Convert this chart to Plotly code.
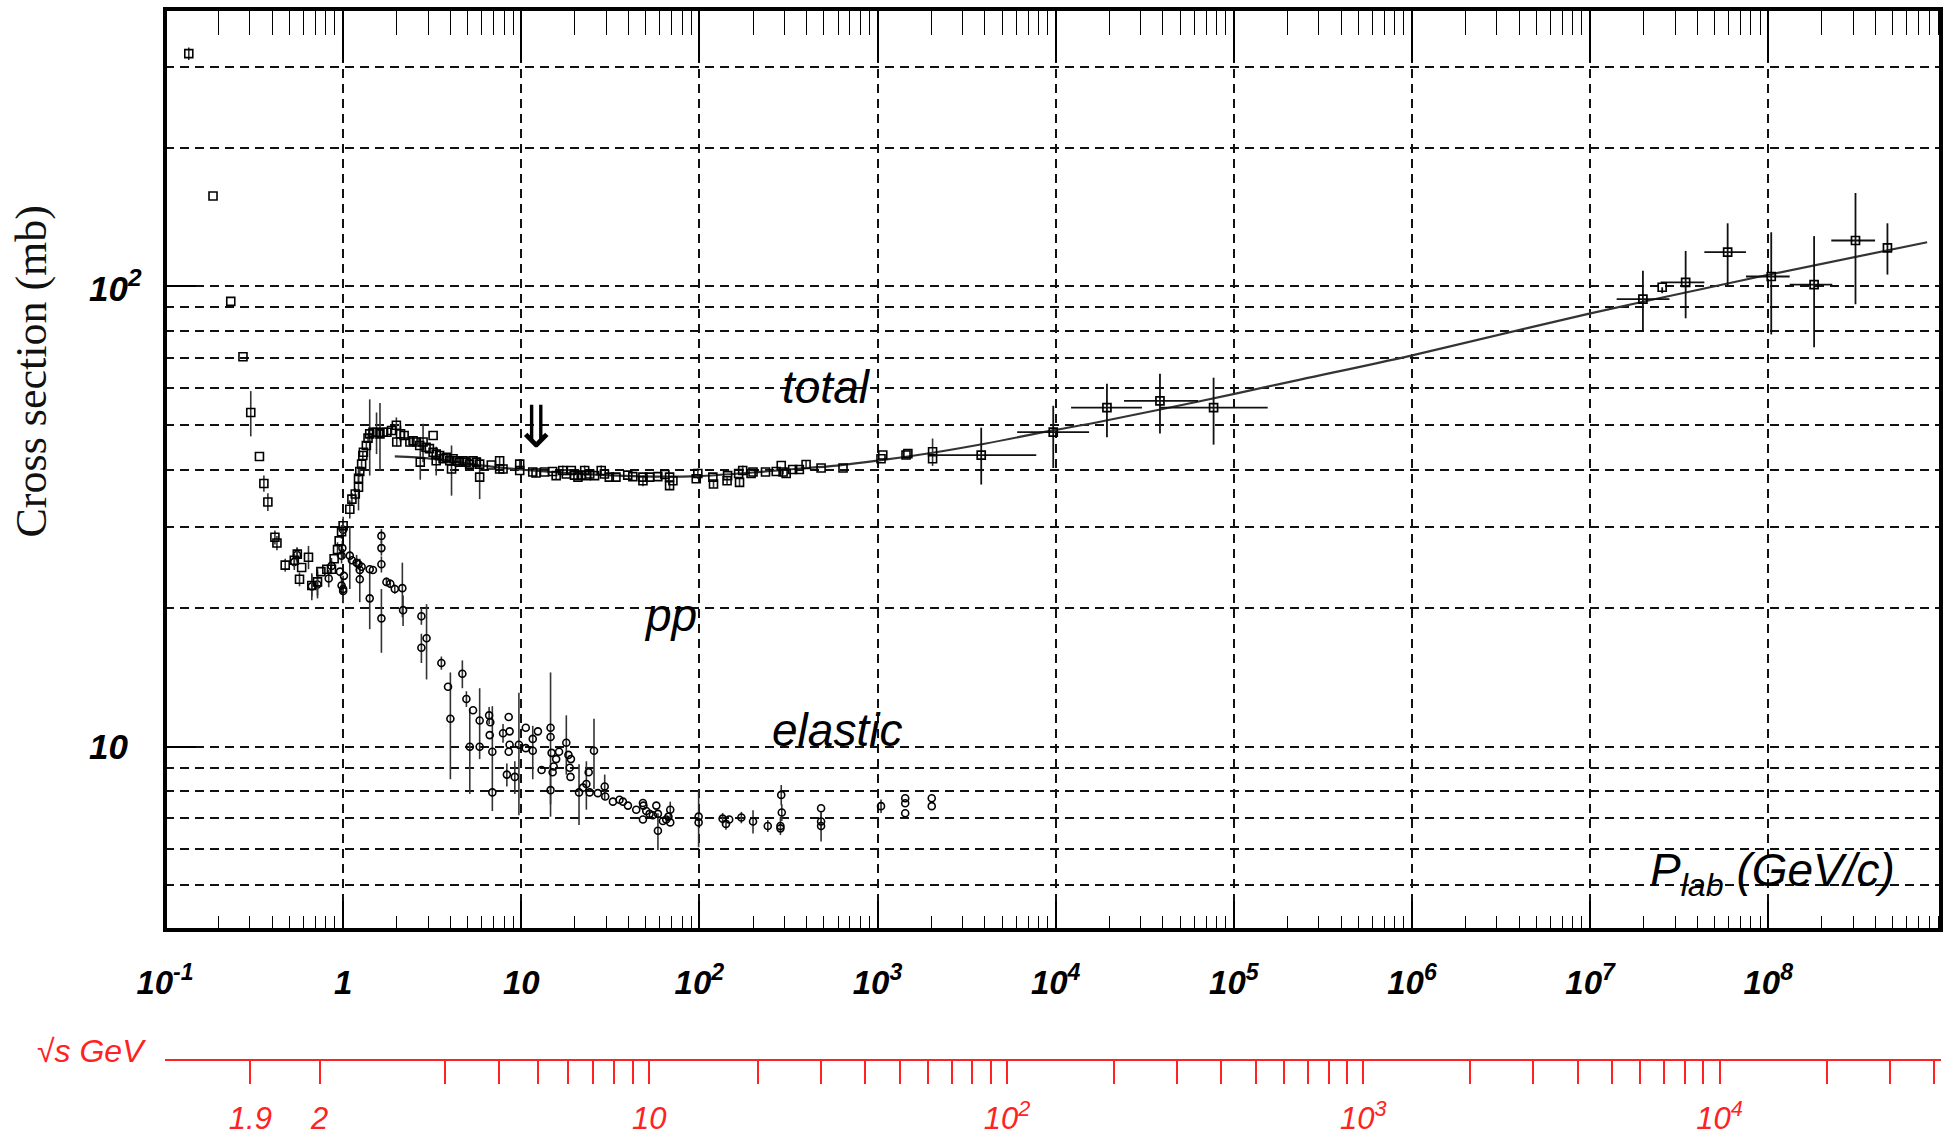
import math
import plotly.graph_objects as go

PROTON_MASS = 0.938272  # GeV

# ---------------- pp total cross section (open squares) ----------------
# beam momentum p_lab [GeV/c], sigma [mb], symmetric error [mb]
tot_p = [0.136, 0.186, 0.234, 0.274, 0.303, 0.339, 0.359, 0.378, 0.414, 0.425,
         0.473, 0.532, 0.553, 0.569, 0.585, 0.639, 0.667, 0.718, 0.75, 0.81,
         0.86, 0.89, 0.93, 0.95, 0.98, 1.0, 1.09, 1.12, 1.17, 1.22,
         1.22, 1.24, 1.27, 1.29, 1.30, 1.35, 1.38, 1.41, 1.47, 1.54,
         1.61, 1.68, 1.76, 1.87, 1.99, 2.0, 2.1, 2.2, 2.37, 2.47,
         2.58, 2.69, 2.81, 2.71, 2.92, 3.05, 3.2, 3.2, 3.33, 3.48,
         3.64, 3.33, 3.79, 3.97, 4.06, 4.14, 4.33, 4.5, 4.71, 4.9,
         5.13, 5.36, 5.6, 5.84, 5.84, 6.79, 7.56, 7.56, 7.9, 9.8,
         9.8, 11.6, 12.1, 13.5, 15.0, 15.7, 17.1, 17.9, 19.1, 19.9,
         20.8, 21.7, 22.7, 23.2, 24.2, 25.8, 28.1, 29.3, 31.2, 34.0,
         39.6, 42.3, 48.2, 48.2, 52.5, 58.4, 64, 68, 68, 71,
         96, 98, 119, 120, 143, 144, 166, 168, 175, 195,
         200, 235, 270, 288, 295, 307, 334, 364, 397, 482,
         640, 1046, 1070, 1445, 1480, 2037, 2037]
tot_sigma = [320, 157, 92.7, 70.3, 53.2, 42.7, 37.3, 34.0, 28.5, 27.7,
             24.8, 25.4, 26.2, 23.1, 24.5, 25.8, 22.4, 22.8, 24.0, 24.3,
             24.3, 25.6, 26.8, 28.0, 29.3, 30.2, 32.8, 34.5, 35.4, 36.6,
             38.3, 39.6, 41.1, 42.9, 43.6, 45.1, 46.8, 47.8, 48.2, 48.2,
             47.8, 48.2, 48.2, 48.6, 49.9, 45.9, 47.8, 47.4, 45.9, 46.2,
             45.9, 45.1, 45.9, 41.5, 44.7, 44.4, 47.4, 43.6, 43.2, 42.9,
             42.2, 41.8, 42.5, 41.8, 40.1, 42.2, 41.8, 41.5, 41.8, 41.5,
             41.1, 41.8, 41.5, 41.1, 38.5, 40.9, 41.8, 40.1, 40.1, 41.1,
             39.8, 39.5, 39.3, 39.5, 39.6, 38.8, 39.8, 39.1, 39.8, 38.9,
             38.5, 38.9, 39.8, 38.8, 39.1, 38.8, 39.8, 39.1, 38.5, 38.5,
             38.9, 38.6, 38.5, 37.8, 38.5, 38.6, 39.0, 38.5, 36.9, 37.8,
             38.2, 39.2, 38.5, 37.2, 37.8, 38.8, 39.2, 37.5, 39.8, 39.2,
             39.5, 39.5, 39.6, 40.8, 39.5, 39.2, 40.0, 40.0, 41.0, 40.3,
             40.3, 42.2, 43.0, 43.0, 43.3, 43.7, 42.2]
tot_err = [10, 0, 0, 0, 6, 0, 1.5, 1.5, 1, 1,
           0.8, 0.8, 0.8, 0.8, 0, 1.5, 1.2, 1.5, 0, 0,
           0, 0, 1, 0, 1, 1, 1.5, 1, 1, 4,
           1, 1, 1, 1, 0, 1, 1, 9, 1, 5,
           8, 1, 1, 1, 2, 1, 2, 1, 1, 0,
           0, 0, 4.4, 3.5, 0, 0, 0, 0, 0, 0,
           0, 3, 0, 0, 5, 0, 0, 0, 0, 0,
           0, 0, 0, 0, 4, 0, 1, 0, 0, 1,
           0, 0, 0.8, 0, 0, 0.8, 1, 0, 0, 0,
           0, 1, 1, 0, 0, 0, 1, 0, 0, 0,
           0, 0, 0, 1, 0, 0, 0, 0, 0.8, 0,
           0, 1, 0, 0.7, 0.7, 0, 0, 0.7, 1, 0,
           0, 0, 0, 0, 0.5, 0, 0, 0, 0.8, 0,
           0, 0, 0, 0, 0, 3, 0]

# ------------- high-energy total cross section with momentum bins -------------
hi_p = [3820, 9690, 19400, 38500, 77000, 1.98e7, 2.54e7, 3.44e7, 5.92e7,
        1.04e8, 1.81e8, 3.09e8, 4.67e8]
hi_sigma = [43.0, 48.2, 54.5, 56.4, 54.5, 93.8, 99.5, 102.0, 118.6,
            105.0, 100.8, 125.7, 121.2]
hi_sigma_low = [37.1, 40.3, 47.0, 47.9, 45.3, 79.8, 96.6, 85.2, 100.0,
                78.6, 73.7, 91.4, 106.0]
hi_sigma_high = [49.3, 55.0, 61.4, 64.6, 63.3, 108.0, 99.5, 119.3, 137.0,
                 131.0, 128.5, 159.4, 137.0]
hi_p_low = [2080, 6080, 12200, 24200, 38500, 1.41e7, 2.54e7, 2.49e7, 4.38e7,
            7.5e7, 1.32e8, 2.26e8, 4.67e8]
hi_p_high = [7780, 15400, 30500, 63000, 155000, 2.79e7, 2.54e7, 4.38e7, 7.5e7,
             1.32e8, 2.29e8, 3.98e8, 4.67e8]

# ---------------- pp elastic cross section (open circles) ----------------
el_p = [0.532, 0.551, 0.667, 0.718, 0.83, 0.86, 0.96, 0.98, 1.0, 0.98,
        0.99, 1.0, 1.0, 1.01, 1.09, 1.12, 1.19, 1.22, 1.24, 1.27,
        1.24, 1.41, 1.47, 1.41, 1.64, 1.64, 1.64, 1.64, 1.75, 1.84,
        1.95, 2.15, 2.17, 2.75, 2.75, 2.94, 3.56, 3.88, 4.0, 4.67,
        4.92, 5.14, 5.36, 5.84, 5.84, 6.6, 6.7, 6.65, 6.88, 6.88,
        7.9, 8.3, 8.5, 8.6, 8.6, 8.5, 9.2, 9.7, 10.6, 10.6,
        11.6, 11.6, 12.4, 13.0, 14.6, 14.6, 14.8, 15.0, 14.6, 15.2,
        15.7, 16.3, 17.9, 18.4, 18.7, 18.9, 19.0, 21.1, 22.2, 23.2,
        23.9, 24.2, 25.6, 26.9, 29.4, 29.6, 32.7, 35.6, 37.2, 39.7,
        44.2, 48.2, 48.5, 48.2, 50.3, 52.5, 54.8, 57.3, 58.5, 58.5,
        62.4, 65.1, 67, 68.6, 68.6, 99, 99, 135, 141, 147,
        172, 200, 242, 288, 290, 285, 285, 482, 482, 482,
        1046, 1430, 1430, 1430, 2015, 2015]
el_sigma = [25.2, 26.1, 22.3, 22.5, 23.2, 24.7, 24.0, 22.4, 22.0, 26.0,
            27.0, 29.6, 21.8, 23.5, 26.0, 25.4, 25.1, 24.9, 24.2, 24.6,
            23.1, 24.3, 24.2, 21.0, 28.7, 27.0, 24.9, 19.0, 22.8, 22.6,
            22.0, 22.1, 19.8, 19.2, 16.4, 17.2, 15.2, 13.5, 11.5, 14.4,
            12.7, 10.0, 12.0, 11.4, 10.0, 11.7, 11.3, 10.6, 9.75, 7.96,
            10.7, 8.7, 11.6, 10.8, 10.1, 9.75, 8.6, 10.1, 9.93, 11.0,
            10.4, 9.8, 10.8, 8.9, 11.0, 10.5, 9.7, 8.8, 8.05, 9.06,
            9.4, 9.75, 10.2, 9.6, 9.0, 8.6, 9.4, 7.96, 8.15, 8.3,
            8.8, 7.96, 9.8, 7.93, 8.2, 7.8, 7.6, 7.67, 7.6, 7.45,
            7.3, 7.55, 7.45, 6.95, 7.25, 7.15, 7.1, 7.45, 7.15, 6.57,
            6.9, 6.95, 7.05, 7.3, 6.85, 7.05, 6.85, 6.98, 6.8, 6.95,
            7.02, 6.88, 6.73, 7.86, 7.2, 6.73, 6.65, 7.35, 6.88, 6.73,
            7.43, 7.73, 7.54, 7.17, 7.73, 7.43]
el_err = [1, 1, 1.5, 1.5, 1, 1, 0, 1, 1.5, 1,
          1, 2, 1, 0, 4, 0, 1, 0, 1, 0,
          2.5, 0, 0, 3, 1, 1, 1, 3, 0.5, 0.5,
          0.5, 3, 1.5, 0.8, 1.2, 3.2, 0.5, 0, 3, 1,
          0.5, 2.1, 0, 2, 0, 0.5, 0, 0, 2.5, 0,
          0.5, 0.5, 0, 0, 0, 0, 0.7, 3, 0, 0,
          0, 1.3, 0, 0, 3.5, 0, 0, 0, 1, 0,
          0, 0, 1.5, 0, 0, 0, 0, 1.2, 0, 1,
          0, 0, 1.7, 0, 0.5, 0, 0, 0, 0, 0,
          0, 0, 0, 0, 0, 0, 0, 0, 0, 0.6,
          0, 0, 0, 0.3, 0, 1, 0, 0.2, 0.2, 0,
          0.2, 0.4, 0.2, 0.4, 0.3, 0.3, 0, 0, 0.3, 0.5,
          0.25, 0, 0, 0, 0, 0]

# ---------------- fit to the total cross section ----------------
fit_p = [1.95, 3.2, 5.8, 9.8, 23, 57, 98, 200, 400, 590, 1000, 2040, 3990,
         9800, 16900, 63500, 2.36e5, 9.9e5, 9.9e6, 1.0e8, 7.8e8]
fit_sigma = [42.7, 42.2, 40.9, 40.0, 39.1, 38.6, 38.7, 39.4, 40.3, 40.8, 41.8,
             43.5, 45.5, 48.7, 50.6, 56.2, 62.7, 70.7, 87.2, 105.9, 124.6]

# ---------------- axis ticks and labels ----------------
x_decades = [1e-1, 1, 10, 1e2, 1e3, 1e4, 1e5, 1e6, 1e7, 1e8]
x_tick_text = ["10<sup>-1</sup>", "1", "10", "10<sup>2</sup>", "10<sup>3</sup>",
               "10<sup>4</sup>", "10<sup>5</sup>", "10<sup>6</sup>",
               "10<sup>7</sup>", "10<sup>8</sup>"]
y_tick_vals = [10, 100]
y_tick_text = ["10", "10<sup>2</sup>"]
y_grid_vals = [5, 6, 7, 8, 9, 20, 30, 40, 50, 60, 70, 80, 90, 200, 300]
sqrt_s_ticks = [1.9, 2, 3, 4, 5, 6, 7, 8, 9, 10,
                20, 30, 40, 50, 60, 70, 80, 90, 100,
                200, 300, 400, 500, 600, 700, 800, 900, 1000,
                2000, 3000, 4000, 5000, 6000, 7000, 8000, 9000, 10000,
                20000, 30000, 40000]
sqrt_s_labels = {1.9: "1.9", 2: "2", 10: "10", 100: "10<sup>2</sup>",
                 1000: "10<sup>3</sup>", 10000: "10<sup>4</sup>"}

X_RANGE = [-1.0, 8.97]
Y_RANGE = [math.log10(4), math.log10(400)]


def plab_from_sqrt_s(rs):
    """Beam momentum of a proton on a proton at rest giving c.m. energy rs."""
    m = PROTON_MASS
    e_lab = (rs * rs - 2 * m * m) / (2 * m)
    return math.sqrt(e_lab * e_lab - m * m)


x_minor = [k * d for d in x_decades for k in range(2, 10) if k * d < 10 ** X_RANGE[1]]
sqrt_s_pvals = [plab_from_sqrt_s(v) for v in sqrt_s_ticks]
sqrt_s_text = [sqrt_s_labels.get(v, "") for v in sqrt_s_ticks]

TICK_FONT = dict(family="Liberation Sans, Arial, sans-serif", size=33,
                 color="black", weight="bold", style="italic")
LABEL_FONT = dict(family="Liberation Sans, Arial, sans-serif", size=46,
                  color="black", style="italic")
RED = "#ff2222"
GRID = dict(gridcolor="#111", gridwidth=1.5, griddash="9px,6px")

fig = go.Figure()

# fit curve
fig.add_trace(go.Scatter(
    x=fit_p, y=fit_sigma, mode="lines", line=dict(color="#333", width=2.2, shape="spline"),
    hoverinfo="skip", showlegend=False))

# elastic data
fig.add_trace(go.Scatter(
    x=el_p, y=el_sigma, mode="markers",
    marker=dict(symbol="circle-open", size=7, color="black", line=dict(width=1.6)),
    error_y=dict(type="data", array=el_err, color="#333", thickness=1.6, width=0),
    showlegend=False))

# total data
fig.add_trace(go.Scatter(
    x=tot_p, y=tot_sigma, mode="markers",
    marker=dict(symbol="square-open", size=8, color="black", line=dict(width=1.6)),
    error_y=dict(type="data", array=tot_err, color="#333", thickness=1.6, width=0),
    showlegend=False))

# high-energy total data with momentum bins
fig.add_trace(go.Scatter(
    x=hi_p, y=hi_sigma, mode="markers",
    marker=dict(symbol="square-open", size=8, color="black", line=dict(width=1.7)),
    error_y=dict(type="data", symmetric=False,
                 array=[h - s for h, s in zip(hi_sigma_high, hi_sigma)],
                 arrayminus=[s - l for s, l in zip(hi_sigma, hi_sigma_low)],
                 color="#111", thickness=1.8, width=0),
    error_x=dict(type="data", symmetric=False,
                 array=[h - p for h, p in zip(hi_p_high, hi_p)],
                 arrayminus=[p - l for p, l in zip(hi_p, hi_p_low)],
                 color="#111", thickness=1.8, width=0),
    showlegend=False))

# invisible anchors so the extra axes are rendered
for ax in ("x2", "x3"):
    fig.add_trace(go.Scatter(x=[1], y=[10], xaxis=ax, yaxis="y", mode="markers",
                             marker=dict(opacity=0), hoverinfo="skip", showlegend=False))

fig.update_layout(
    width=1957, height=1139,
    margin=dict(l=165, r=16, t=9, b=14, autoexpand=False),
    paper_bgcolor="white", plot_bgcolor="white",
    template="none",
    xaxis=dict(
        type="log", range=X_RANGE, domain=[0, 1], anchor="y",
        tickmode="array", tickvals=x_decades, ticktext=x_tick_text,
        ticks="inside", ticklen=29, tickwidth=1.7, tickcolor="black",
        tickfont=TICK_FONT, ticklabelstandoff=30,
        showgrid=True, **GRID,
        minor=dict(tickmode="array", tickvals=x_minor, ticks="inside", ticklen=14,
                   tickwidth=1.4, tickcolor="black", showgrid=False),
        showline=False, zeroline=False, automargin=False),
    xaxis3=dict(
        type="log", range=X_RANGE, overlaying="x", anchor="y", side="top",
        tickmode="array", tickvals=x_decades, showticklabels=False,
        ticks="inside", ticklen=53, tickwidth=1.7, tickcolor="black",
        showgrid=False,
        minor=dict(tickmode="array", tickvals=x_minor, ticks="inside", ticklen=26,
                   tickwidth=1.4, tickcolor="black", showgrid=False),
        showline=False, zeroline=False, automargin=False),
    xaxis2=dict(
        type="log", range=X_RANGE, overlaying="x", anchor="free", position=0.0582,
        side="bottom",
        tickmode="array", tickvals=sqrt_s_pvals, ticktext=sqrt_s_text,
        ticks="outside", ticklen=23, tickwidth=1.5, tickcolor=RED,
        tickfont=dict(family="Liberation Sans, Arial, sans-serif", size=31,
                      color=RED, style="italic"),
        ticklabelstandoff=8,
        showline=True, linecolor=RED, linewidth=1.6,
        showgrid=False, zeroline=False, automargin=False),
    yaxis=dict(
        type="log", range=Y_RANGE, domain=[0.17473, 1], anchor="x",
        tickmode="array", tickvals=y_tick_vals, showticklabels=False,
        ticks="inside", ticklen=31, tickwidth=1.7, tickcolor="black",
        showgrid=True, **GRID,
        minor=dict(tickmode="array", tickvals=y_grid_vals, ticks="",
                   showgrid=True, gridcolor="#111", gridwidth=1.5, griddash="9px,6px"),
        showline=False, zeroline=False, automargin=False),
)

# thick frame around the plotting area
fig.add_shape(type="rect", xref="x domain", yref="y domain", x0=0, x1=1, y0=0, y1=1,
              line=dict(color="black", width=4), layer="above")

# y tick labels, left aligned
for val, txt in zip(y_tick_vals, y_tick_text):
    fig.add_annotation(x=0, xref="paper", xshift=-78, xanchor="left",
                       y=math.log10(val), yref="y", yanchor="middle",
                       text=txt, showarrow=False, font=dict(TICK_FONT, size=35))

# axis titles
fig.add_annotation(x=0, xref="paper", xshift=-134, xanchor="center",
                   y=math.log10(65.3), yref="y", yanchor="middle",
                   text="Cross section (mb)", textangle=-90, showarrow=False,
                   font=dict(family="Liberation Serif, Times New Roman, serif", size=44,
                             color="#111"))
fig.add_annotation(x=0, xref="paper", xshift=-130, xanchor="left",
                   y=0.0664, yref="paper", yanchor="middle",
                   text="√s GeV", showarrow=False,
                   font=dict(family="Liberation Sans, Arial, sans-serif", size=32,
                             color=RED, style="italic"))
fig.add_annotation(x=7.325, y=0.7253, xref="x", yref="y", xanchor="left", yanchor="middle",
                   text="P<sub>lab</sub> (GeV/c)", showarrow=False, font=LABEL_FONT)

# curve labels
fig.add_annotation(x=2.712, y=1.7823, xref="x", yref="y", text="total",
                   showarrow=False, font=LABEL_FONT)
fig.add_annotation(x=1.837, y=1.2863, xref="x", yref="y", text="pp",
                   showarrow=False, font=LABEL_FONT)
fig.add_annotation(x=2.774, y=1.0373, xref="x", yref="y", text="elastic",
                   showarrow=False, font=LABEL_FONT)
fig.add_annotation(x=1.085, y=1.6935, xref="x", yref="y", text="⇓",
                   showarrow=False,
                   font=dict(family="DejaVu Sans, sans-serif", size=58, color="black"))

fig.write_html("out.html")
